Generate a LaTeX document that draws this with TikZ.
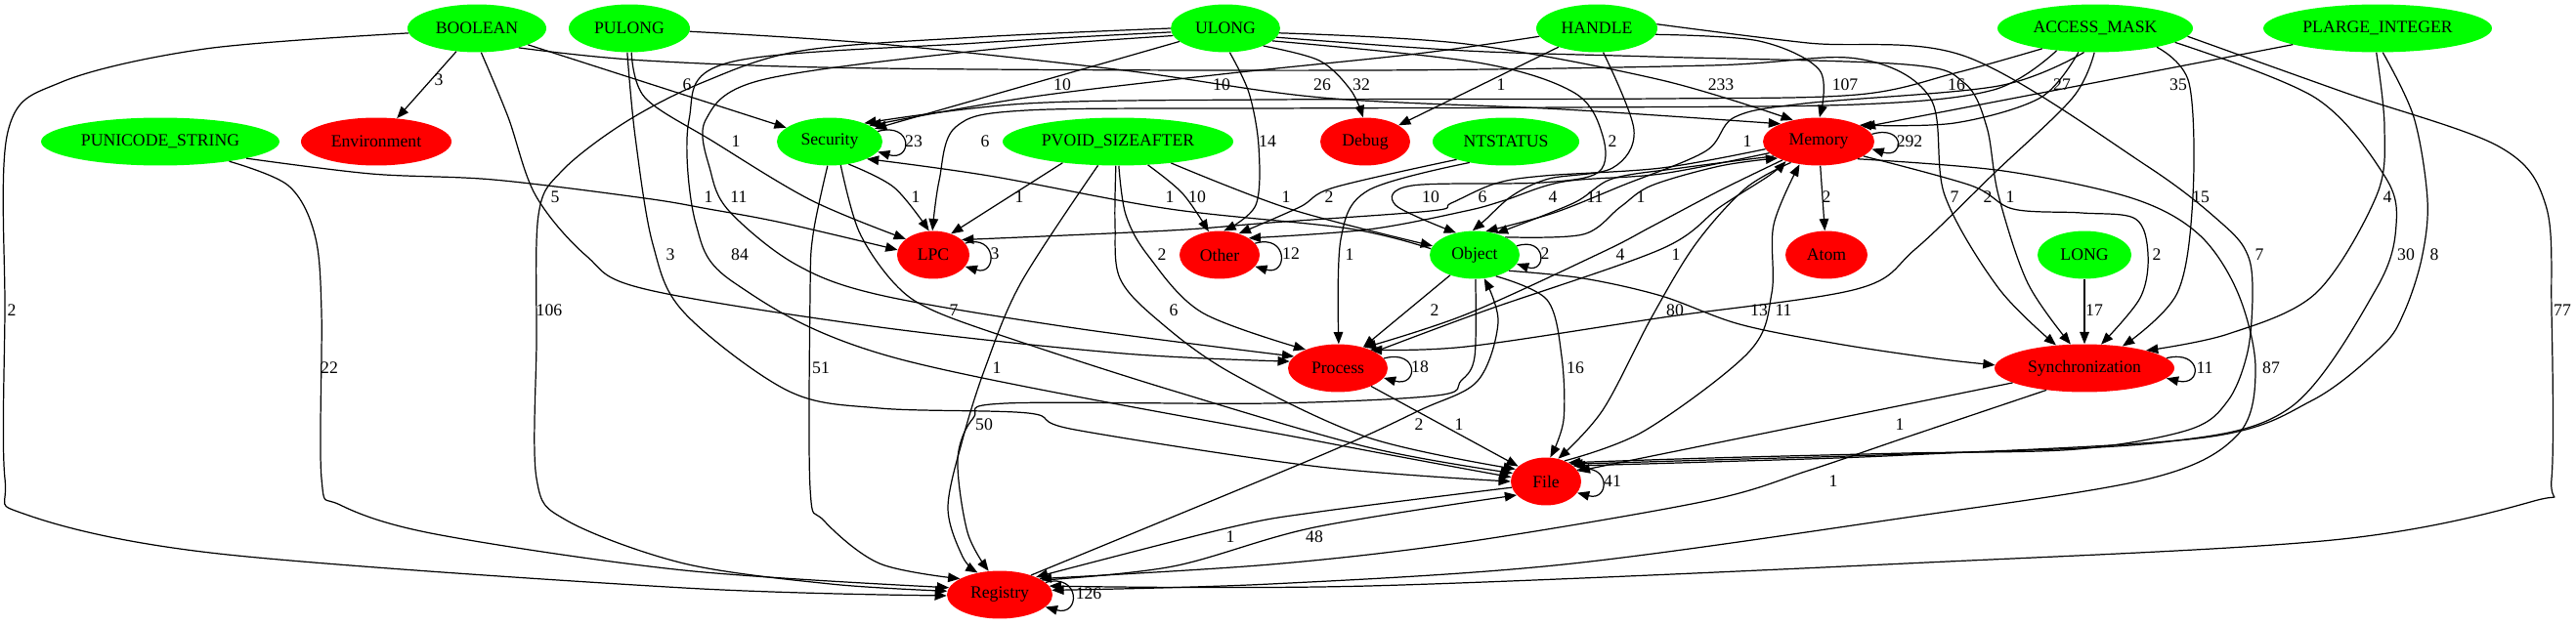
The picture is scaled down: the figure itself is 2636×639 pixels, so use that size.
\documentclass[tikz,border=0pt]{standalone}
\usepackage{fontspec}
\setmainfont{Liberation Serif}
\usetikzlibrary{shapes.geometric,arrows.meta}
\definecolor{gvgreen}{RGB}{0,255,0}
\definecolor{gvred}{RGB}{255,0,0}
\begin{document}
\begin{tikzpicture}[x=0.735pt,y=-0.735pt,
  nd/.style={ellipse, draw=none, inner sep=0pt, minimum height=36pt, font=\fontsize{13}{15}\selectfont},
  gn/.style={nd, fill=gvgreen},
  rn/.style={nd, fill=gvred},
  e/.style={draw=black, line width=0.9pt, -{Triangle[length=9pt,width=7pt]}},
  lb/.style={font=\fontsize{13}{15}\selectfont, inner sep=0pt},
  sm/.style={smooth, tension=0.55}]
\fill[white] (0,0) rectangle (2636,639);
\useasboundingbox (0,0) rectangle (2636,639);
% nodes
\node[gn, minimum width=104.4pt] (nBOOL) at (488,29) {BOOLEAN};
\node[gn, minimum width=91.1pt] (nPUL) at (644,29) {PULONG};
\node[gn, minimum width=82.3pt] (nUL) at (1254,29) {ULONG};
\node[gn, minimum width=91.1pt] (nHAN) at (1634,29) {HANDLE};
\node[gn, minimum width=147pt] (nAM) at (2144,29) {ACCESS\_MASK};
\node[gn, minimum width=172pt] (nPL) at (2433,29) {PLARGE\_INTEGER};
\node[gn, minimum width=179.3pt] (nPS) at (164,145) {PUNICODE\_STRING};
\node[rn, minimum width=113.2pt] (nEnv) at (385,145) {Environment};
\node[gn, minimum width=79.4pt] (nSec) at (849,145) {Security};
\node[gn, minimum width=173.5pt] (nPV) at (1144,145) {PVOID\_SIZEAFTER};
\node[rn, minimum width=67.6pt] (nDbg) at (1397,145) {Debug};
\node[gn, minimum width=110.3pt] (nNT) at (1541,145) {NTSTATUS};
\node[rn, minimum width=83.8pt] (nMem) at (1861,145) {Memory};
\node[rn, minimum width=54.4pt] (nLPC) at (955,261) {LPC};
\node[rn, minimum width=60.3pt] (nOth) at (1248,261) {Other};
\node[gn, minimum width=67.6pt] (nObj) at (1509,261) {Object};
\node[rn, minimum width=61.7pt] (nAtom) at (1869,261) {Atom};
\node[gn, minimum width=70.6pt] (nLONG) at (2133,261) {LONG};
\node[rn, minimum width=75pt] (nProc) at (1369,377) {Process};
\node[rn, minimum width=135.2pt] (nSync) at (2133,377) {Synchronization};
\node[rn, minimum width=52.9pt] (nFile) at (1582,493) {File};
\node[rn, minimum width=79.4pt] (nReg) at (1023,609) {Registry};

% rank 0 -> rank 1
\draw[e] (nBOOL) -- (nEnv);
\draw[e] (nBOOL) -- (nSec);
\draw[e] (nUL) -- (nSec);
\draw[e] plot[sm] coordinates {(nHAN.188) (1450,55) (1250,76) (1050,100) (nSec.22)};
\draw[e] plot[sm] coordinates {(nPUL.-3) (900,45) (1150,72) (1353,100) (1600,112) (nMem.155)};
\draw[e] plot[sm] coordinates {(nUL.-25) (1350,62) (1382,92) (nDbg.95)};
\draw[e] (nHAN) -- (nDbg);
\draw[e] plot[sm] coordinates {(nUL.-5) (1500,45) (1700,82) (nMem.140)};
\draw[e] plot[sm] coordinates {(nHAN.-6) (1800,42) (1862,72) (nMem.88)};
\draw[e] plot[sm] coordinates {(nAM.-159) (2000,75) (1900,97) (1700,101) (1300,102) (1050,106) (nSec.28)};
\draw[e] plot[sm] coordinates {(nAM.-125) (2088,100) (2000,126) (nMem.22)};
\draw[e] (nPL) -- (nMem.18);
% band 145
\draw[e] plot[sm] coordinates {(nPUL.-85) (660,100) (730,145) (830,205) (nLPC.150)};
\draw[e] plot[sm] coordinates {(nAM.-150) (2040,92) (1900,107) (1600,110) (1300,111) (1050,113) (978,130) (961,185) (nLPC.92)};
\draw[e] plot[sm] coordinates {(nUL.-80) (1278,95) (1288,150) (1285,210) (nOth.80)};
\draw[e] plot[sm] coordinates {(nUL.-15) (1512,64) (1611,95) (1640,139) (1636,176) (1578,187) (1445,190) (1428,210) (nObj.130)};
\draw[e] plot[sm] coordinates {(nAM.-115) (2045,88) (1846,106) (1775,120) (1745,155) (1660,190) (1590,218) (nObj.65)};
% band 202
\draw[e] plot[sm] coordinates {(nBOOL.-80) (520,120) (548,200) (600,262) (660,296) (900,335) (1150,362) (nProc.172)};
\draw[e] plot[sm] coordinates {(nPS.-11) (380,178) (505,184) (660,203) (725,214) (800,228) (nLPC.172)};
\draw[e] plot[sm] coordinates {(nUL.188) (1000,52) (779,82) (722,123) (727,175) (746,216) (813,270) (900,302) (1100,336) (nProc.165)};
\draw[e] plot[sm] coordinates {(nSec.-50) (915,192) (nLPC.100)};
\draw[e] (nPV.-159) -- (nLPC.50);
\draw[e] plot[sm] coordinates {(nObj.172) (1380,234) (1197,214) (1012,180) (nSec.-25)};
\draw[e] plot[sm] coordinates {(nPV.-38) (1210,198) (nOth.115)};
\draw[e] plot[sm] coordinates {(nPV.-22) (1320,214) (nObj.168)};
\draw[e] plot[sm] coordinates {(nNT.-160) (1365,192) (1330,212) (nOth.48)};
\draw[e] plot[sm] coordinates {(nMem.-172) (1700,172) (1580,180) (1530,188) (1485,208) (1464,216) (1300,228) (1197,236) (nLPC.28)};
\draw[e] plot[sm] coordinates {(nMem.-167) (1700,178) (1600,186) (1540,205) (1500,216) (1400,235) (nOth.30)};
\draw[e] plot[sm] coordinates {(nHAN.-75) (1672,133) (1650,172) (1585,183) (1548,200) (1520,225) (nObj.95)};
\draw[e] plot[sm] coordinates {(nMem.-162) (1720,172) (1650,183) (1610,208) (nObj.45)};
\draw[e] plot[sm] coordinates {(nObj.30) (1620,240) (1658,212) (1690,190) (1760,170) (nMem.-158)};
\draw[e] (nMem) -- (nAtom);
\draw[e] plot[sm] coordinates {(nBOOL.-25) (660,62) (900,70) (1400,72) (1750,67) (1900,60) (1975,100) (1990,200) (2045,295) (nSync.141)};
\draw[e] plot[sm] coordinates {(nAM.-92) (2121,100) (2041,177) (1960,255) (1900,296) (1702,325) (1500,355) (nProc.30)};
\draw[e] plot[sm] coordinates {(nUL.-10) (1500,52) (1690,58) (1950,66) (2010,85) (2033,130) (2045,200) (2075,290) (nSync.120)};
\draw[e] plot[sm] coordinates {(nAM.-17) (2240,85) (2244,200) (2228,300) (nSync.30)};
\draw[e] plot[sm] coordinates {(nPL.-93) (2440,130) (2432,200) (2370,300) (2280,342) (nSync.16)};
% band 261
\draw[e] plot[sm] coordinates {(nPUL.-95) (650,140) (668,250) (700,320) (806,400) (900,418) (1052,423) (1100,440) (1350,478) (nFile.180)};
\draw[e] plot[sm] coordinates {(nUL.184) (1000,44) (746,64) (705,123) (712,229) (752,290) (918,367) (1350,452) (nFile.173)};
\draw[e] plot[sm] coordinates {(nUL.180) (1000,38) (820,52) (720,84) (640,125) (575,175) (551,220) (549,350) (549,490) (580,533) (700,577) (850,598) (nReg.176)};
\draw[e] plot[sm] coordinates {(nPV.-88) (1152,220) (1175,262) (1230,320) (nProc.150)};
\draw[e] plot[sm] coordinates {(nNT.-150) (1400,195) (1372,245) (nProc.88)};
\draw[e] plot[sm] coordinates {(nMem.-153) (1760,195) (1690,232) (1640,258) (1500,322) (nProc.38)};
\draw[e] plot[sm] coordinates {(nProc.24) (1520,318) (1700,255) (1760,212) (1810,180) (nMem.-149)};
\draw[e] plot[sm] coordinates {(nMem.-18) (2017,190) (2060,214) (2130,218) (2185,224) (2198,260) (2190,305) (nSync.55)};
\draw[e] plot[sm] coordinates {(nHAN.4) (1850,44) (2012,58) (2197,170) (2275,230) (2300,261) (2305,300) (2300,360) (2280,410) (2240,440) (2125,460) (1950,464) (1750,469) (nFile.40)};
\draw[e] plot[sm] coordinates {(nAM.-10) (2369,100) (2440,180) (2452,230) (2432,295) (2344,417) (2212,453) (1950,465) (1750,471) (nFile.35)};
\draw[e] plot[sm] coordinates {(nPL.-78) (2470,120) (2484,205) (2478,265) (2460,320) (2437,355) (2366,410) (2256,448) (1950,466) (1750,473) (nFile.30)};
% band 318
\draw[e] plot[sm] coordinates {(nBOOL.184) (210,50) (63,84) (8,135) (5,320) (5,490) (27,527) (224,567) (700,602) (nReg.181)};
\draw[e] plot[sm] coordinates {(nSec.-65) (879,237) (915,290) (955,318) (1050,352) (1200,400) (1400,458) (nFile.166)};
\draw[e] plot[sm] coordinates {(nPV.-95) (1141,230) (1146,285) (1185,328) (1260,382) (1400,448) (nFile.158)};
\draw[e] (nObj) -- (nProc);
\draw[e] plot[sm] coordinates {(nMem.-143) (1786,193) (1735,250) (1690,325) (1640,420) (nFile.62)};
\draw[e] plot[sm] coordinates {(nObj.-25) (1620,285) (1700,303) (1780,332) (1880,352) (1980,367) (nSync.178)};
\draw[e] plot[sm] coordinates {(nFile.48) (1683,441) (1790,360) (1813,300) (1815,230) (nMem.-130)};
\draw[e] (nLONG) -- (nSync);
\draw[e] plot[sm] coordinates {(nAM.-5) (2400,95) (2557,150) (2605,210) (2611,320) (2611,490) (2593,513) (2387,553) (1950,577) (1400,600) (nReg.10)};
% band 377
\draw[e] plot[sm] coordinates {(nPS.-16) (295,190) (322,240) (329,320) (329,490) (348,517) (446,547) (700,584) (nReg.172)};
\draw[e] plot[sm] coordinates {(nSec.-95) (832,240) (829,300) (829,500) (843,533) (900,577) (nReg.158)};
\draw[e] plot[sm] coordinates {(nPV.-130) (1045,289) (1008,377) (985,450) (970,520) (985,570) (nReg.135)};
\draw[e] plot[sm] coordinates {(nObj.-45) (1583,307) (1598,365) (1600,430) (nFile.80)};
\draw[e] plot[sm] coordinates {(nMem.-24) (2050,175) (2182,203) (2250,240) (2290,300) (2308,377) (2290,445) (2200,490) (1950,530) (1600,578) (1300,598) (nReg.5)};
% band 435 and below
\draw[e] plot[sm] coordinates {(nObj.-88) (1509,365) (1495,390) (1470,405) (1300,413) (1029,413) (996,428) (980,470) (990,545) (nReg.115)};
\draw[e] plot[sm] coordinates {(nReg.32) (1350,467) (1453,420) (1512,390) (1533,330) (nObj.-68)};
\draw[e] (nProc) -- (nFile);
\draw[e] (nSync) -- (nFile.18);
\draw[e] plot[sm] coordinates {(nSync.-150) (1950,448) (1850,482) (1746,513) (1500,555) (1300,578) (nReg.22)};
\draw[e] plot[sm] coordinates {(nFile.-170) (1350,524) (1259,540) (nReg.26)};
\draw[e] plot[sm] coordinates {(nReg.19) (1200,580) (1345,540) (nFile.-155)};
% self loops
\draw[e] (nSec.12) .. controls +(36,-10) and +(36,10) .. (nSec.-12);
\draw[e] (nLPC.20) .. controls +(33,-10) and +(33,10) .. (nLPC.-20);
\draw[e] (nOth.18) .. controls +(34,-10) and +(34,10) .. (nOth.-18);
\draw[e] (nMem.8) .. controls +(34,-10) and +(34,10) .. (nMem.-8);
\draw[e] (nObj.12) .. controls +(31,-10) and +(31,10) .. (nObj.-12);
\draw[e] (nProc.12) .. controls +(36,-10) and +(36,10) .. (nProc.-12);
\draw[e] (nSync.7) .. controls +(37,-9) and +(37,9) .. (nSync.-7);
\draw[e] (nFile.20) .. controls +(34,-9) and +(34,9) .. (nFile.-20);
\draw[e] (nReg.15) .. controls +(36,-10) and +(36,10) .. (nReg.-15);
% labels
\node[lb] (la1) at (449,82) {3};
\node[lb] (la2) at (703,87) {6};
\node[lb] (la3) at (1087,87) {10};
\node[lb] (la4) at (1250,87) {10};
\node[lb] (la5) at (1353,87) {26};
\node[lb] (la6) at (1393,87) {32};
\node[lb] (la7) at (1536,87) {1};
\node[lb] (la8) at (1761,87) {233};
\node[lb] (la9) at (1888,87) {107};
\node[lb] (la10) at (2002,87) {16};
\node[lb] (la11) at (2110,87) {27};
\node[lb] (la12) at (2229,87) {35};
\node[lb] (lb1) at (753,145) {1};
\node[lb] (lb2) at (1008,145) {6};
\node[lb] (lb3) at (1297,145) {14};
\node[lb] (lb4) at (1650,145) {2};
\node[lb] (lb5) at (1788,145) {1};
\node[lb] (lc1) at (568,202) {5};
\node[lb] (lc2) at (725,202) {1};
\node[lb] (lc3) at (756,202) {11};
\node[lb] (lc4) at (937,202) {1};
\node[lb] (lc5) at (1043,202) {1};
\node[lb] (lc6) at (1197,202) {1};
\node[lb] (lc7) at (1225,202) {10};
\node[lb] (lc8) at (1316,202) {1};
\node[lb] (lc9) at (1360,202) {2};
\node[lb] (lc10) at (1464,202) {10};
\node[lb] (lc11) at (1517,202) {6};
\node[lb] (lc12) at (1589,202) {4};
\node[lb] (lc13) at (1632,202) {11};
\node[lb] (lc14) at (1679,202) {1};
\node[lb] (lc15) at (1869,202) {2};
\node[lb] (lc16) at (2000,202) {7};
\node[lb] (lc17) at (2034,202) {2};
\node[lb] (lc18) at (2057,202) {1};
\node[lb] (lc19) at (2252,202) {15};
\node[lb] (lc20) at (2443,202) {4};
\node[lb] (ld1) at (686,261) {3};
\node[lb] (ld2) at (757,261) {84};
\node[lb] (ld3) at (1189,261) {2};
\node[lb] (ld4) at (1381,261) {1};
\node[lb] (ld5) at (1658,261) {4};
\node[lb] (ld6) at (1715,261) {1};
\node[lb] (ld7) at (2207,261) {2};
\node[lb] (ld8) at (2312,261) {7};
\node[lb] (ld9) at (2462,261) {30};
\node[lb] (ld10) at (2491,261) {8};
\node[lb] (le1) at (12,318) {2};
\node[lb] (le2) at (562,318) {106};
\node[lb] (le3) at (976,318) {7};
\node[lb] (le4) at (1201,318) {6};
\node[lb] (le5) at (1468,318) {2};
\node[lb] (le6) at (1714,318) {80};
\node[lb] (le7) at (1800,318) {13};
\node[lb] (le8) at (1825,318) {11};
\node[lb] (le9) at (2143,318) {17};
\node[lb] (le10) at (2622,318) {77};
\node[lb] (lf1) at (337,377) {22};
\node[lb] (lf2) at (840,377) {51};
\node[lb] (lf3) at (1020,377) {1};
\node[lb] (lf4) at (1612,377) {16};
\node[lb] (lf5) at (2324,377) {87};
\node[lb] (lg1) at (1007,435) {50};
\node[lb] (lg2) at (1452,435) {2};
\node[lb] (lg3) at (1493,435) {1};
\node[lb] (lg4) at (1944,435) {1};
\node[lb] (lh1) at (1876,493) {1};
\node[lb] (li1) at (1259,550) {1};
\node[lb] (li2) at (1345,550) {48};
% loop labels
\node[lb] (ls1) at (935,145) {23};
\node[lb] (ls2) at (1018,260) {3};
\node[lb] (ls3) at (1321,260) {12};
\node[lb] (ls4) at (1954,145) {292};
\node[lb] (ls5) at (1581,260) {2};
\node[lb] (ls6) at (1453,376) {18};
\node[lb] (ls7) at (2256,377) {11};
\node[lb] (ls8) at (1650,493) {41};
\node[lb] (ls9) at (1114,608) {126};
\end{tikzpicture}
\end{document}
